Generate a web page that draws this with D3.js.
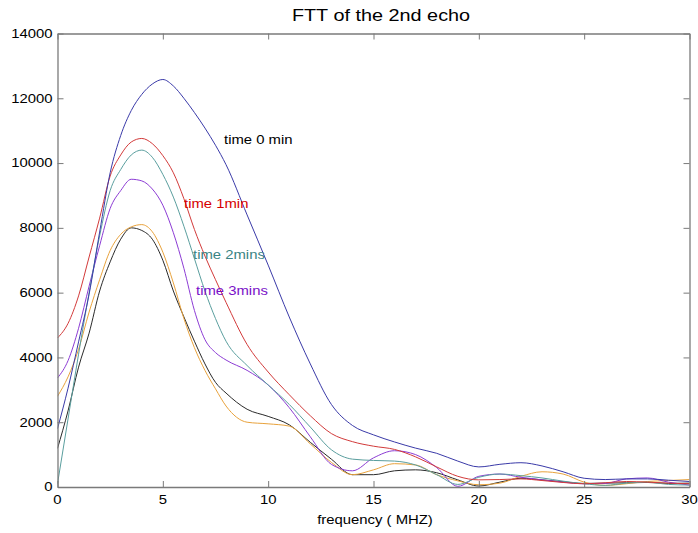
<!DOCTYPE html>
<html>
<head>
<meta charset="utf-8">
<script src="https://cdn.jsdelivr.net/npm/d3@7"></script>
<style>
html,body{margin:0;padding:0;background:#fff;}
svg{display:block;font-family:"Liberation Sans",Arial,sans-serif;}
</style>
</head>
<body>
<svg id="chart" width="698" height="533"></svg>
<script>
// ---- data ----
const freq = [0,0.5,1,1.5,2,2.5,3,3.5,4,4.5,5,5.5,6,6.5,7,7.5,8,9,10,11,12,13,14,15,16,17,18,19,20,21,22,23,24,25,26,27,28,29,30];
const time0 = [1800,3050,4480,5950,7870,9700,10850,11620,12120,12440,12580,12380,12000,11560,11080,10550,9950,8400,6850,5250,3800,2550,1900,1610,1390,1200,1040,800,620,700,750,650,470,270,230,250,250,210,170];
const time1 = [4600,5050,5900,7100,8300,9600,10250,10650,10760,10600,10230,9700,8900,7950,7130,6400,5700,4400,3550,2850,2200,1650,1400,1260,1160,930,620,330,220,230,250,200,140,100,130,170,150,120,100];
const time2 = [100,2100,4100,6000,7750,9150,9800,10250,10400,10180,9650,8950,8050,7050,6050,5200,4500,3750,3150,2550,1850,1150,860,820,800,680,380,80,300,400,350,280,180,100,50,120,150,80,60];
const time3 = [3365,3900,4900,6200,7450,8600,9150,9500,9450,9200,8700,7850,6750,5450,4550,4150,3920,3600,3150,2450,1550,700,500,900,1120,1000,600,20,330,400,300,220,150,100,110,250,280,150,60];
const series5 = [2800,3400,4250,5400,6400,7300,7800,8030,8100,7880,7250,6300,5200,4300,3600,3030,2500,2000,1950,1880,1330,760,380,530,720,680,380,190,70,120,330,470,400,150,50,100,170,200,230];
const series6 = [1190,2350,3700,4750,6050,6950,7650,8000,7920,7650,7000,6050,5250,4500,3800,3230,2900,2400,2180,1920,1380,860,380,380,500,530,440,220,30,150,270,220,160,110,120,130,140,110,120];
const seriesNames = ["time 0 min","time 1min","time 2mins","time 3mins","",""];
const xTicks = [0,5,10,15,20,25,30];
const yTicks = [0,2000,4000,6000,8000,10000,12000,14000];
const titleText = "FTT of the 2nd echo";
const xLabel = "frequency ( MHZ)";

// ---- layout / style ----
const L = 57.5, R = 689.5, T = 33.5, B = 487;
const SX = 1.24; // horizontal text stretch seen in the reference
const lineColors = ["#3a3aa8","#d23a3a","#5a9e9e","#8c3cd4","#e8a23c","#2a2a2a"];
const labelColors = ["#000000","#d60000","#3a8484","#7a10c8"];
const labelPos = [[224,144],[184,208],[193,259],[196,295]];

const svg = d3.select("#chart");
const x = d3.scaleLinear().domain([0,30]).range([L,R]);
const y = d3.scaleLinear().domain([0,14000]).range([B,T]);

function stretchedText(g, px, py, txt, size, anchor, color){
  return g.append("text")
    .attr("transform", `translate(${px},${py}) scale(${SX},1)`)
    .attr("text-anchor", anchor)
    .attr("font-size", size)
    .attr("fill", color)
    .text(txt);
}

// clip
svg.append("clipPath").attr("id","clip").append("rect")
  .attr("x",L).attr("y",T).attr("width",R-L).attr("height",B-T);

// lines
const allSeries = [time0,time1,time2,time3,series5,series6];
const line = d3.line()
  .x((d,i)=>x(freq[i]))
  .y(d=>y(d))
  .curve(d3.curveMonotoneX);
const lg = svg.append("g").attr("clip-path","url(#clip)");
[5,4,3,2,1,0].forEach(k=>{
  lg.append("path").datum(allSeries[k])
    .attr("d", line)
    .attr("fill","none")
    .attr("stroke", lineColors[k])
    .attr("stroke-width", 1);
});

// axes (box with inward ticks)
const axisColor = "#7a7a7a";
const tickLen = 6;
const gx = svg.append("g").attr("transform",`translate(0,${B})`)
  .call(d3.axisBottom(x).tickValues(xTicks).tickSizeInner(-tickLen).tickSizeOuter(0).tickFormat(""));
const gxt = svg.append("g").attr("transform",`translate(0,${T})`)
  .call(d3.axisTop(x).tickValues(xTicks).tickSizeInner(-tickLen).tickSizeOuter(0).tickFormat(""));
const gy = svg.append("g").attr("transform",`translate(${L},0)`)
  .call(d3.axisLeft(y).tickValues(yTicks).tickSizeInner(-tickLen).tickSizeOuter(0).tickFormat(""));
const gyr = svg.append("g").attr("transform",`translate(${R},0)`)
  .call(d3.axisRight(y).tickValues(yTicks).tickSizeInner(-tickLen).tickSizeOuter(0).tickFormat(""));
[gx,gxt,gy,gyr].forEach(g=>{
  g.selectAll("path.domain").attr("stroke",axisColor).attr("stroke-width",1.3);
  g.selectAll(".tick line").attr("stroke",axisColor).attr("stroke-width",1);
});

// tick labels
const tg = svg.append("g");
xTicks.forEach(v=>stretchedText(tg, x(v), 504, String(v), 12, "middle", "#000"));
yTicks.forEach(v=>stretchedText(tg, 52.5, y(v)+4.3, String(v), 12, "end", "#000"));

// title and axis label
stretchedText(svg, 381, 21, titleText, 16, "middle", "#000");
stretchedText(svg, 375, 524, xLabel, 12, "middle", "#000");

// series annotations
labelPos.forEach((p,i)=>stretchedText(svg, p[0], p[1], seriesNames[i], 12, "start", labelColors[i]));
</script>
</body>
</html>
